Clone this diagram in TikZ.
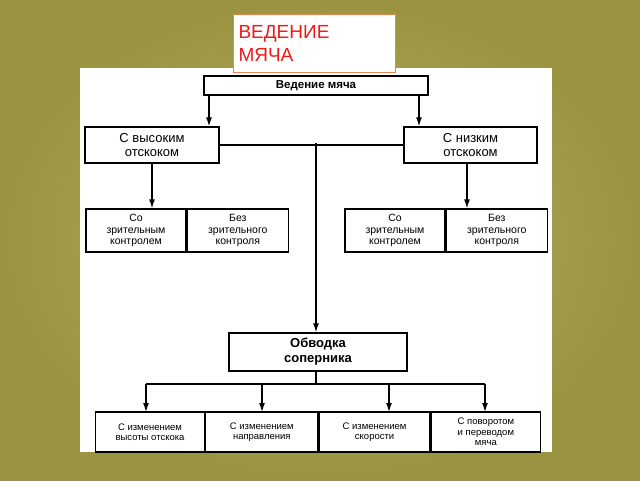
\documentclass[tikz,border=0pt]{standalone}
\usepackage{fontspec}
\setmainfont{Liberation Sans}
\usetikzlibrary{arrows.meta,positioning}

\definecolor{olive1}{HTML}{9A9340}
\definecolor{olive2}{HTML}{B8B060}
\definecolor{titlered}{HTML}{F01818}
\definecolor{titleedge}{HTML}{E8864A}

\begin{document}
\begin{tikzpicture}[x=1pt,y=-1pt,>={Latex[length=9pt,width=6pt]}]
	\tikzstyle{block} = [draw, line width=1.3pt, rectangle, inner sep=1pt, align=center, font=\fontsize{13}{14}\selectfont]
	\tikzstyle{head} = [block, font=\bfseries\fontsize{11.5}{12}\selectfont]
	\tikzstyle{small} = [block, font=\fontsize{10.5}{11.5}\selectfont]
	\tikzstyle{bottom} = [block, font=\fontsize{9.5}{10.5}\selectfont]
	\tikzstyle{link} = [line width=1.3pt]
	
	% background
	\useasboundingbox (0,0) rectangle (640,480);
	\shade[inner color=olive2, outer color=olive1] (0,0) rectangle (640,480);
	\fill[white] (80,68) rectangle (552,452);
	
	\node [draw=titleedge, fill=white, line width=1pt, minimum width=162, minimum height=58, text width=152, align=left, text=titlered, font=\fontsize{19}{23}\selectfont, anchor=north west, inner sep=4pt] (title) at (233,14) {ВЕДЕНИЕ\\МЯЧА};
	
	\node [head, minimum width=224, minimum height=19] (dribble) at (316,85.5) {Ведение мяча};
	\node [block, minimum width=134, minimum height=36] (high) at (152,145) {С высоким\\отскоком};
	\node [block, minimum width=133, minimum height=36] (low) at (470.5,145) {С низким\\отскоком};
	
	\node [small, minimum width=100, minimum height=43] (hvis) at (136,230.5) {Со\\зрительным\\контролем};
	\node [small, minimum width=101, minimum height=43, right=0pt of hvis] (hnovis) {Без\\зрительного\\контроля};
	\node [small, minimum width=100, minimum height=43] (lvis) at (395,230.5) {Со\\зрительным\\контролем};
	\node [small, minimum width=101, minimum height=43, right=0pt of lvis] (lnovis) {Без\\зрительного\\контроля};
	
	\node [head, minimum width=178, minimum height=38, font=\bfseries\fontsize{13}{15}\selectfont] (beat) at (318,352) {Обводка\\соперника};
	
	\node [bottom, minimum width=109, minimum height=40] (b1) at (150,432) {С изменением\\высоты отскока};
	\node [bottom, minimum width=112, minimum height=40, right=0pt of b1] (b2) {С изменением\\направления};
	\node [bottom, minimum width=111, minimum height=40, right=0pt of b2] (b3) {С изменением\\скорости};
	\node [bottom, minimum width=109, minimum height=40, right=0pt of b3] (b4) {С поворотом\\и переводом\\мяча};
	
	\coordinate (mid) at (316,143);
	\coordinate (fork) at (316,384);
	\coordinate (dl) at (209,95);
	\coordinate (dr) at (419,95);
	\coordinate (lowout) at (467,163);
	
	\draw [link, ->] (dl) -- (dl |- high.north);
	\draw [link, ->] (dr) -- (dr |- low.north);
	\draw [link] (high.east) -- (low.west);
	\draw [link, ->] (mid) -- (mid |- beat.north);
	\draw [link, ->] (high.south) -- (high.south |- hvis.north);
	\draw [link, ->] (lowout) -- (lowout |- lvis.north);
	\draw [link] (beat.south -| fork) -- (fork);
	\draw [link] (146,384) -- (485,384);
	\foreach \x in {146,262,389,485}
		\draw [link, ->] (\x,384) -- (\x,412);
	
\end{tikzpicture}
\end{document}
